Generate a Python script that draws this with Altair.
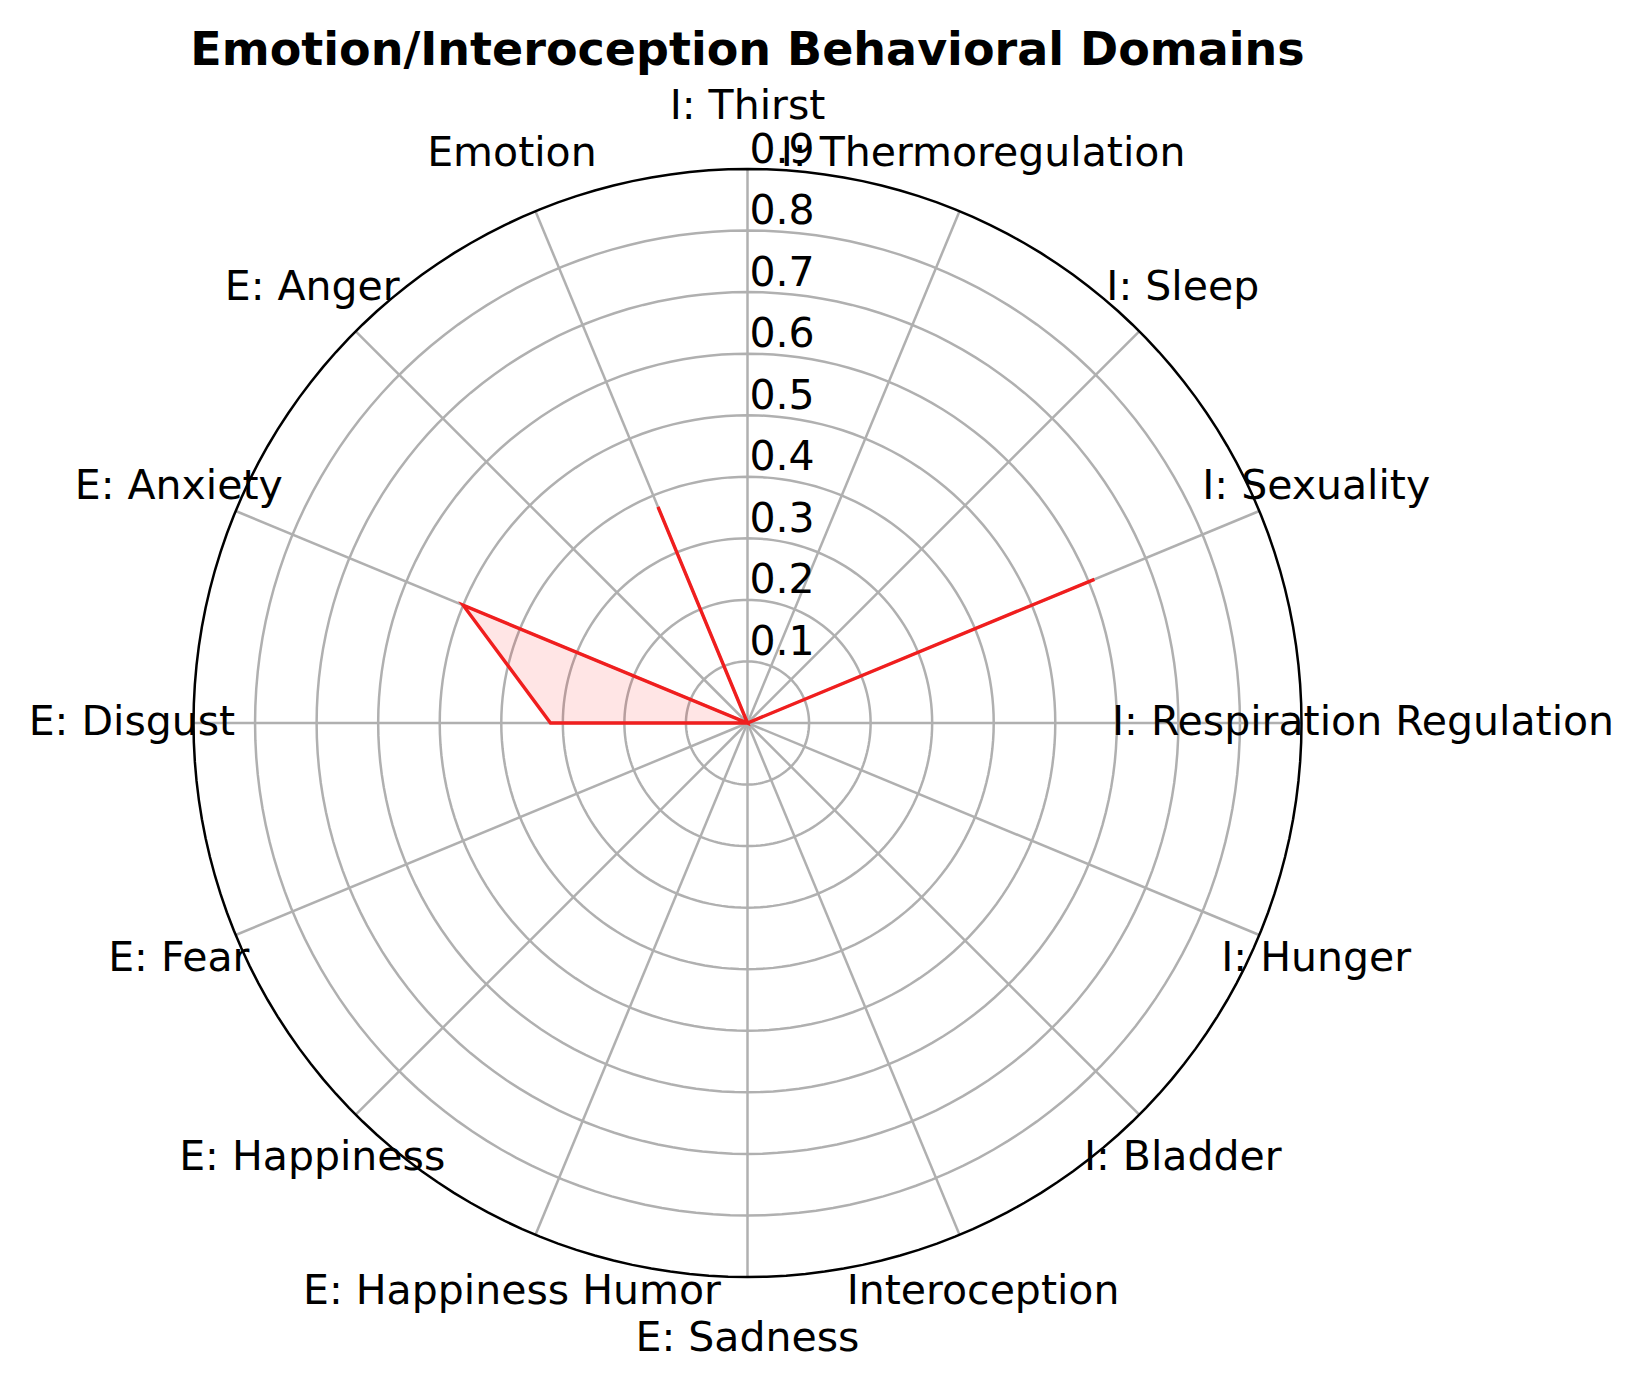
import altair as alt
import pandas as pd
import numpy as np

# ---------------- data ----------------
categories = [
    "I: Thirst", "I: Thermoregulation", "I: Sleep", "I: Sexuality",
    "I: Respiration Regulation", "I: Hunger", "I: Bladder", "Interoception",
    "E: Sadness", "E: Happiness Humor", "E: Happiness", "E: Fear",
    "E: Disgust", "E: Anxiety", "E: Anger", "Emotion",
]
values = [0.0, 0.0, 0.0, 0.61, 0.0, 0.0, 0.0, 0.0,
          0.0, 0.0, 0.0, 0.0, 0.32, 0.50, 0.0, 0.38]
r_ticks = [0.1, 0.2, 0.3, 0.4, 0.5, 0.6, 0.7, 0.8, 0.9]
r_tick_labels = ["0.1", "0.2", "0.3", "0.4", "0.5", "0.6", "0.7", "0.8", "0.9"]
r_max = 0.9
title_text = "Emotion/Interoception Behavioral Domains"

# ---------------- layout ----------------
W, H = 1645, 1387
PAD_TOP = 80
VIEW_H = H - PAD_TOP
CX, CY = 747.5, 723.0 - PAD_TOP
K = 554.0 / r_max          # pixels per unit radius
LABEL_R = 1.0              # radius (data units) of category labels
FONT = "DejaVu Sans"

xs = alt.Scale(domain=[-CX / K, (W - CX) / K], nice=False, zero=False)
ys = alt.Scale(domain=[-(VIEW_H - CY) / K, CY / K], nice=False, zero=False)

n = len(categories)
cat_df = pd.DataFrame({"category": categories, "value": values, "idx": list(range(n))})
poly_df = pd.concat([cat_df, cat_df.iloc[[0]].assign(idx=n)], ignore_index=True)

ring_rows = []
for r in r_ticks:
    for deg in range(0, 361, 2):
        ring_rows.append({"ring": r, "deg": deg})
ring_df = pd.DataFrame(ring_rows)

tick_df = pd.DataFrame({"r": r_ticks, "label": r_tick_labels})

ANG = f"datum.idx * 2 * PI / {n}"

X = lambda f: alt.X(f, type="quantitative", scale=xs, axis=None)
Y = lambda f: alt.Y(f, type="quantitative", scale=ys, axis=None)

# grid rings
rings_base = alt.Chart(ring_df).transform_calculate(
    x="datum.ring * sin(datum.deg * PI / 180)",
    y="datum.ring * cos(datum.deg * PI / 180)",
)
inner_rings = rings_base.transform_filter(f"datum.ring < {r_max - 0.01}").mark_line(
    color="#b0b0b0", strokeWidth=2.5
).encode(x=X("x"), y=Y("y"), detail="ring:N", order="deg:Q")
outer_ring = rings_base.transform_filter(f"datum.ring >= {r_max - 0.01}").mark_line(
    color="black", strokeWidth=2.5
).encode(x=X("x"), y=Y("y"), detail="ring:N", order="deg:Q")

# spokes
spokes = alt.Chart(cat_df).transform_calculate(
    x0="0", y0="0",
    x1=f"{r_max} * sin({ANG})",
    y1=f"{r_max} * cos({ANG})",
).mark_rule(color="#b0b0b0", strokeWidth=2.5).encode(
    x=X("x0"), y=Y("y0"), x2="x1:Q", y2="y1:Q"
)

# radar polygon
polygon = alt.Chart(poly_df).transform_calculate(
    x=f"datum.value * sin({ANG})",
    y=f"datum.value * cos({ANG})",
).mark_line(
    color="#f01e1e", strokeWidth=3.4, fill="red", fillOpacity=0.1,
    strokeJoin="miter"
).encode(x=X("x"), y=Y("y"), order="idx:Q")

# radial tick labels
tick_labels = alt.Chart(tick_df).transform_calculate(x0="0").mark_text(
    align="left", baseline="middle", dx=2, dy=-18.5,
    font=FONT, fontSize=41, color="black"
).encode(x=X("x0"), y=Y("r"), text="label:N")

# category labels
cat_labels = alt.Chart(cat_df).transform_calculate(
    x=f"{LABEL_R} * sin({ANG})",
    y=f"{LABEL_R} * cos({ANG})",
).mark_text(
    align="center", baseline="middle", font=FONT, fontSize=41, color="black"
).encode(x=X("x"), y=Y("y"), text="category:N")

chart = alt.layer(
    inner_rings, spokes, outer_ring, polygon, tick_labels, cat_labels
).properties(
    width=W, height=VIEW_H,
    title=alt.Title(
        title_text, font=FONT, fontSize=46, fontWeight="bold", color="black",
        anchor="middle", dx=CX - W / 2, dy=45, offset=14, baseline="alphabetic",
    ),
    autosize=alt.AutoSizeParams(type="none"),
    padding={"left": 0, "right": 0, "top": PAD_TOP, "bottom": 0},
    background="white",
).configure_view(stroke=None)

chart.save("out.html", embed_options={"renderer": "svg", "actions": False})
